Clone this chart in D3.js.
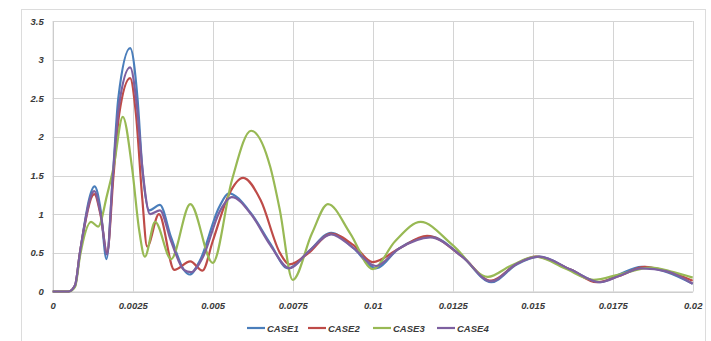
<!DOCTYPE html>
<html>
<head>
<meta charset="utf-8">
<script src="https://cdn.jsdelivr.net/npm/d3@7"></script>
<style>
  html, body { margin: 0; padding: 0; background: #ffffff; }
  svg { display: block; }
</style>
</head>
<body>
<svg id="chart" width="711" height="341"></svg>
<script>
// Series names and colours
const seriesNames = ["CASE1", "CASE2", "CASE3", "CASE4"];
const seriesColors = ["#4A7EBB", "#BE4B48", "#98B954", "#7D60A0"];

// Axis ticks
const xTicks = [0, 0.0025, 0.005, 0.0075, 0.01, 0.0125, 0.015, 0.0175, 0.02];
const xTickLabels = ["0", "0.0025", "0.005", "0.0075", "0.01", "0.0125", "0.015", "0.0175", "0.02"];
const yTicks = [0, 0.5, 1, 1.5, 2, 2.5, 3, 3.5];
const yTickLabels = ["0", "0.5", "1", "1.5", "2", "2.5", "3", "3.5"];

// Response curves: [time, amplitude]
const case1 = [[0,0],[0.0005,0],[0.0007,0.08],[0.00085,0.5],[0.00131,1.36],[0.0015,1.05],[0.00168,0.42],[0.00188,1.5],[0.00205,2.5],[0.00242,3.15],[0.00265,2.5],[0.0028,1.6],[0.00302,1.05],[0.00335,1.12],[0.0037,0.7],[0.0041,0.28],[0.00428,0.22],[0.0046,0.4],[0.0052,1.09],[0.0055,1.27],[0.0062,1.01],[0.0068,0.62],[0.00735,0.3],[0.008,0.52],[0.0087,0.76],[0.0094,0.56],[0.0101,0.3],[0.0108,0.55],[0.0118,0.71],[0.0128,0.45],[0.0137,0.12],[0.0145,0.35],[0.0152,0.45],[0.0162,0.28],[0.0171,0.12],[0.0177,0.22],[0.0184,0.32],[0.0192,0.25],[0.02,0.1]];
const case2 = [[0,0],[0.0005,0],[0.0007,0.08],[0.00085,0.5],[0.0013,1.26],[0.0015,0.98],[0.0017,0.5],[0.0019,1.5],[0.00208,2.3],[0.00242,2.76],[0.0026,2.3],[0.0028,1.2],[0.00295,0.58],[0.00332,1.0],[0.0038,0.28],[0.0043,0.39],[0.00468,0.27],[0.005,0.65],[0.0055,1.25],[0.00595,1.47],[0.0065,1.18],[0.0071,0.5],[0.0074,0.35],[0.008,0.5],[0.0087,0.75],[0.0094,0.6],[0.01,0.38],[0.0108,0.55],[0.0117,0.72],[0.0128,0.45],[0.0137,0.14],[0.0145,0.36],[0.0151,0.45],[0.0162,0.28],[0.017,0.12],[0.0177,0.2],[0.0185,0.32],[0.0192,0.26],[0.02,0.14]];
const case3 = [[0,0],[0.0005,0],[0.0007,0.06],[0.00085,0.45],[0.0012,0.9],[0.00142,0.84],[0.0017,1.25],[0.0019,1.6],[0.00219,2.26],[0.00248,1.6],[0.0027,0.8],[0.00288,0.45],[0.0032,0.9],[0.0037,0.42],[0.0043,1.13],[0.005,0.37],[0.0056,1.44],[0.0062,2.08],[0.0068,1.61],[0.0071,1.05],[0.0075,0.15],[0.0081,0.75],[0.0086,1.13],[0.0093,0.75],[0.01,0.29],[0.0107,0.65],[0.0115,0.9],[0.0125,0.6],[0.0136,0.19],[0.0143,0.33],[0.0151,0.45],[0.016,0.3],[0.0169,0.15],[0.0177,0.22],[0.0187,0.31],[0.0194,0.25],[0.02,0.18]];
const case4 = [[0,0],[0.0005,0],[0.0007,0.08],[0.00085,0.5],[0.0013,1.3],[0.0015,1.0],[0.0017,0.48],[0.00188,1.5],[0.00207,2.4],[0.00242,2.9],[0.00263,2.4],[0.0028,1.6],[0.00304,1.0],[0.00335,1.05],[0.0037,0.65],[0.0041,0.28],[0.00432,0.25],[0.0047,0.45],[0.0052,1.02],[0.0056,1.22],[0.0062,1.0],[0.0068,0.6],[0.0074,0.3],[0.008,0.52],[0.0087,0.74],[0.0094,0.56],[0.0101,0.33],[0.0108,0.55],[0.0118,0.7],[0.0128,0.45],[0.0137,0.13],[0.0145,0.36],[0.0152,0.45],[0.0162,0.28],[0.0171,0.12],[0.0177,0.2],[0.0184,0.3],[0.0192,0.26],[0.02,0.1]];

const allSeries = [case1, case2, case3, case4];

const svg = d3.select("#chart");

// Chart area frame
svg.append("rect")
  .attr("x", 21.5).attr("y", 9.5)
  .attr("width", 684).attr("height", 340)
  .attr("fill", "#ffffff")
  .attr("stroke", "#dcdcdc");

const x = d3.scaleLinear().domain([0, 0.02]).range([52.7, 692.7]);
const y = d3.scaleLinear().domain([0, 3.5]).range([291.5, 21]);

// Gridlines
const grid = svg.append("g");
grid.selectAll("line.h").data(yTicks).join("line")
  .attr("class", "h")
  .attr("x1", x(0)).attr("x2", x(0.02))
  .attr("y1", d => Math.round(y(d)) + 0.5).attr("y2", d => Math.round(y(d)) + 0.5)
  .attr("stroke", "#d4d4d4").attr("stroke-width", 1);
grid.selectAll("line.v").data(xTicks).join("line")
  .attr("class", "v")
  .attr("y1", y(0)).attr("y2", y(3.5))
  .attr("x1", d => Math.round(x(d)) + 0.5).attr("x2", d => Math.round(x(d)) + 0.5)
  .attr("stroke", "#d4d4d4").attr("stroke-width", 1);

// Axes (labels only)
const xAxis = d3.axisBottom(x).tickValues(xTicks)
  .tickFormat((d, i) => xTickLabels[i]).tickSize(0).tickPadding(11);
const yAxis = d3.axisLeft(y).tickValues(yTicks)
  .tickFormat((d, i) => yTickLabels[i]).tickSize(0).tickPadding(9);

const gx = svg.append("g").attr("transform", `translate(0,${y(0)})`).call(xAxis);
const gy = svg.append("g").attr("transform", `translate(${x(0)},0)`).call(yAxis);
[gx, gy].forEach(g => {
  g.select(".domain").attr("stroke", "#c8c8c8");
  g.selectAll("text")
    .attr("font-family", "'Liberation Sans', Arial, sans-serif")
    .attr("font-size", 9.5)
    .attr("font-style", "italic")
    .attr("font-weight", "bold")
    .attr("fill", "#3a3a3a");
});

// Series lines
const line = d3.line()
  .x(d => x(d[0]))
  .y(d => y(d[1]))
  .curve(d3.curveMonotoneX);

svg.append("g").selectAll("path").data(allSeries).join("path")
  .attr("d", line)
  .attr("fill", "none")
  .attr("stroke", (d, i) => seriesColors[i])
  .attr("stroke-width", 2.2)
  .attr("stroke-linejoin", "round");

// Legend
const legendX = [247, 308, 373, 437];
const legend = svg.append("g").attr("transform", "translate(0,328)");
const items = legend.selectAll("g").data(seriesNames).join("g")
  .attr("transform", (d, i) => `translate(${legendX[i]},0)`);
items.append("line")
  .attr("x1", 0).attr("x2", 18).attr("y1", 0).attr("y2", 0)
  .attr("stroke", (d, i) => seriesColors[i]).attr("stroke-width", 2.2);
items.append("text")
  .attr("x", 20).attr("y", 3.5)
  .attr("font-family", "'Liberation Sans', Arial, sans-serif")
  .attr("font-size", 9.5)
  .attr("font-style", "italic")
  .attr("font-weight", "bold")
  .attr("fill", "#3a3a3a")
  .text(d => d);
</script>
</body>
</html>
